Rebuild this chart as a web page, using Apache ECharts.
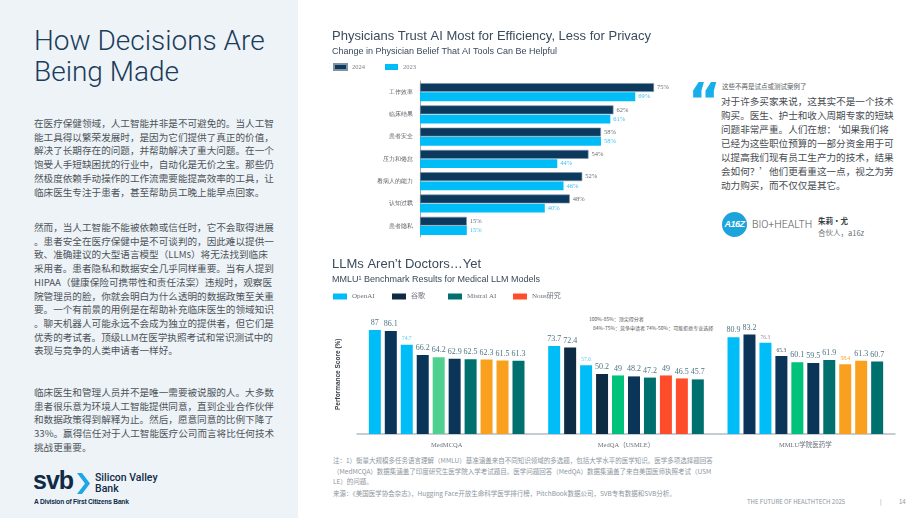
<!DOCTYPE html>
<html>
<head>
<meta charset="utf-8">
<script src="https://cdn.jsdelivr.net/npm/echarts@6/dist/echarts.min.js"></script>
<style>
    html, body { margin: 0; padding: 0; background: #ffffff; }
    body { width: 920px; height: 518px; position: relative; overflow: hidden;
        font-family: "Noto Sans CJK SC", "Liberation Sans", sans-serif; }
    .abs { position: absolute; white-space: nowrap; }
    #side { left: 0; top: 0; width: 298px; height: 518px; background: #eef3f7; }
    #headline { left: 34px; top: 25px; font: 300 28px/31px Roboto, "Liberation Sans", sans-serif; color: #1b3c5a; }
    .para { left: 34px; font-size: 9.6px; line-height: 13.7px; color: #4d535a; }
    .quote { left: 721px; top: 94px; font-size: 9.6px; line-height: 14px; color: #474c52; }
    .note { left: 333px; font-size: 6.5px; line-height: 10.5px; color: #8d969e; font-family: "Noto Sans CJK SC", "Liberation Serif", serif; }
    #main { position: absolute; left: 0; top: 0; width: 920px; height: 518px; }
</style>
</head>
<body>
<div id="side" class="abs"></div>
<div id="headline" class="abs">How Decisions Are<br>Being Made</div>

<div class="abs para" style="top:117px">在医疗保健领域，人工智能并非是不可避免的。当人工智<br>能工具得以繁荣发展时，是因为它们提供了真正的价值，<br>解决了长期存在的问题，并帮助解决了重大问题。在一个<br>饱受人手短缺困扰的行业中，自动化是无价之宝。那些仍<br>然极度依赖手动操作的工作流需要能提高效率的工具，让<br>临床医生专注于患者，甚至帮助员工晚上能早点回家。</div>
<div class="abs para" style="top:221px">然而，当人工智能不能被依赖或信任时，它不会取得进展<br>。患者安全在医疗保健中是不可谈判的，因此难以提供一<br>致、准确建议的大型语言模型（LLMs）将无法找到临床<br>采用者。患者隐私和数据安全几乎同样重要。当有人提到<br>HIPAA（健康保险可携带性和责任法案）违规时，观察医<br>院管理员的脸，你就会明白为什么透明的数据政策至关重<br>要。一个有前景的用例是在帮助补充临床医生的领域知识<br>。聊天机器人可能永远不会成为独立的提供者，但它们是<br>优秀的考试者。顶级LLM在医学执照考试和常识测试中的<br>表现与竞争的人类申请者一样好。</div>
<div class="abs para" style="top:386px">临床医生和管理人员并不是唯一需要被说服的人。大多数<br>患者很乐意为环境人工智能提供同意，直到企业合作伙伴<br>和数据政策得到解释为止。然后，愿意同意的比例下降了<br>33%。赢得信任对于人工智能医疗公司而言将比任何技术<br>挑战更重要。</div>

<!-- svb logo -->
<div class="abs" style="left:33px;top:466px;font:bold 25px/28px 'Liberation Sans',sans-serif;color:#0f2b46;letter-spacing:-1px">svb</div>
<svg class="abs" style="left:77px;top:473px" width="13" height="21"><polygon points="0,0 5,0 13,10.5 5,21 0,21 8,10.5" fill="#1ea7e4"/></svg>
<div class="abs" style="left:95px;top:472px;font:500 10.5px/11px Roboto,'Liberation Sans',sans-serif;color:#0f2b46">Silicon Valley<br>Bank</div>
<div class="abs" style="left:34px;top:498px;font:bold 6.6px/8px 'Liberation Sans',sans-serif;color:#0f2b46;letter-spacing:-0.2px">A Division of First Citizens Bank</div>

<!-- quote block -->
<div class="abs" style="left:688px;top:76px;font:bold 50px/50px 'DejaVu Sans',sans-serif;color:#19aee9">“</div>
<div class="abs" style="left:722px;top:82px;font-size:6.5px;line-height:8px;color:#555b61">这些不再是试点或测试案例了</div>
<div class="abs quote">对于许多买家来说，这其实不是一个技术<br>购买。医生、护士和收入周期专家的短缺<br>问题非常严重。人们在想：‘如果我们将<br>已经为这些职位预算的一部分资金用于可<br>以提高我们现有员工生产力的技术，结果<br>会如何？’他们更看重这一点，视之为劳<br>动力购买，而不仅仅是其它。</div>
<div class="abs" style="left:722px;top:212px;width:25px;height:25px;border-radius:50%;background:#1ba3dc;color:#fff;font:italic bold 9px/25px 'Liberation Sans',sans-serif;text-align:center;letter-spacing:-0.5px">A16Z</div>
<div class="abs" style="left:752px;top:219px;font:300 10.5px/12px Roboto,'Liberation Sans',sans-serif;color:#555">BIO+HEALTH</div>
<div class="abs" style="left:818px;top:216px;font-size:7.5px;line-height:9px;font-weight:bold;color:#3a3f44">朱莉・尤</div>
<div class="abs" style="left:818px;top:228px;font-size:7.5px;line-height:9px;color:#6b7178">合伙人，a16z</div>

<!-- benchmark annotation -->
<div class="abs" style="left:589px;top:316px;font-size:5px;line-height:6px;color:#555">100%-85%：顶尖得分者</div>
<div class="abs" style="left:593px;top:325px;font-size:5px;line-height:6px;color:#555">84%-75%：竞争申请者 74%-50%：可能拒绝专业选择</div>

<!-- notes -->
<div class="abs note" style="top:455px">注：1）衡量大规模多任务语言理解（MMLU）基准涵盖来自不同知识领域的多选题，包括大学水平的医学知识。医学多项选择题回答<br>（MedMCQA）数据集涵盖了印度研究生医学院入学考试题目。医学问题回答（MedQA）数据集涵盖了来自美国医师执照考试（USM<br>LE）的问题。</div>
<div class="abs note" style="top:488px">来源：《美国医学协会杂志》，Hugging Face开放生命科学医学排行榜，PitchBook数据公司，SVB专有数据和SVB分析。</div>
<div class="abs note" style="left:747px;top:497px;font-size:6px">THE FUTURE OF HEALTHTECH 2025</div>
<div class="abs note" style="left:880px;top:497px;font-size:6px">|</div>
<div class="abs note" style="left:899px;top:497px;font-size:6px">14</div>

<div id="main"></div>
<script>
    // 医生对AI工具的信任（%）
    const trustCats = ['工作效率', '临床结果', '患者安全', '压力和倦怠', '看病人的能力', '认知过载', '患者隐私'];
    const trust2024 = [75, 62, 58, 54, 52, 48, 15];
    const trust2023 = [69, 61, 58, 44, 46, 40, 15];

    // MMLU 医学基准结果，每组10个模型（按组内顺序）
    const benchCats = ['MedMCQA', 'MedQA（USMLE）', 'MMLU学院医药学'];
    const benchSlots = [
        [87, 73.7, 80.9],
        [86.1, 72.4, 83.2],
        [74.7, 57.6, 76.3],
        [66.2, 50.2, 65.3],
        [64.2, 49, 60.1],
        [62.9, 48.2, 59.5],
        [62.5, 47.2, 61.9],
        [62.3, 49, 58.4],
        [61.5, 46.5, 61.3],
        [61.3, 45.7, 60.7]
    ];
    const slotNames = ['OpenAI', '谷歌', 'OpenAI', '谷歌', '其他', '谷歌', 'Mistral AI', 'Nous研究', 'Nous研究', 'Mistral AI'];

    // 样式
    const C = {
        blue: '#00bdf8', navy: '#0b3558', dark: '#0e2b44', green: '#00c27a', lgreen: '#50d08f',
        teal: '#00706e', orange: '#f9a11f', red: '#ff4d2b'
    };
    const slotColors = [
        [C.blue, C.blue, C.blue],
        [C.navy, C.dark, C.navy],
        [C.blue, C.blue, C.blue],
        [C.navy, C.dark, C.navy],
        [C.lgreen, C.green, C.green],
        [C.navy, C.navy, C.navy],
        [C.teal, C.teal, C.teal],
        [C.orange, C.red, C.orange],
        [C.orange, C.red, C.orange],
        [C.teal, C.teal, C.teal]
    ];
    const legendColor = {'OpenAI': C.blue, '谷歌': C.dark, '其他': C.green, 'Mistral AI': C.teal, 'Nous研究': C.red};
    // 个别数值标签的特殊样式
    const smallLabels = {
        '2-0': '#5ec8ee', '2-1': '#5ec8ee', '2-2': '#8c9aa4', '3-2': '#4b5a66', '7-2': '#f9a11f'
    };

    const serif = '"Liberation Serif", "Noto Sans CJK SC", serif';
    const sans = '"Liberation Sans", "Noto Sans CJK SC", sans-serif';

    const chart = echarts.init(document.getElementById('main'), null, {renderer: 'canvas'});

    const benchSeries = benchSlots.map(function (vals, i) {
        return {
            name: slotNames[i],
            type: 'bar',
            xAxisIndex: 1,
            yAxisIndex: 1,
            barWidth: 12,
            barGap: '33%',
            itemStyle: {color: legendColor[slotNames[i]]},
            label: {
                show: true, position: 'top', distance: 3,
                fontFamily: serif, fontSize: 8, color: '#4f7483'
            },
            data: vals.map(function (v, g) {
                const item = {value: v, itemStyle: {color: slotColors[i][g]}};
                const key = i + '-' + g;
                if (smallLabels[key]) {
                    item.label = {fontSize: 5.5, color: smallLabels[key]};
                }
                return item;
            })
        };
    });

    const bottomLegendPos = [['OpenAI', 333], ['谷歌', 392], ['Mistral AI', 448], ['Nous研究', 513]];

    const option = {
        animation: false,
        title: [
            {
                text: 'Physicians Trust AI Most for Efficiency, Less for Privacy',
                subtext: 'Change in Physician Belief That AI Tools Can Be Helpful',
                left: 332, top: 30, padding: 0, itemGap: 4,
                textStyle: {fontFamily: sans, fontSize: 13, fontWeight: 'normal', color: '#3a4b5c'},
                subtextStyle: {fontFamily: sans, fontSize: 9, color: '#3a4b5c'}
            },
            {
                text: 'LLMs Aren’t Doctors…Yet',
                subtext: 'MMLU¹ Benchmark Results for Medical LLM Models',
                left: 332, top: 258, padding: 0, itemGap: 4,
                textStyle: {fontFamily: sans, fontSize: 13, fontWeight: 'normal', color: '#3a4b5c'},
                subtextStyle: {fontFamily: sans, fontSize: 9, color: '#3a4b5c'}
            }
        ],
        legend: [{
            data: ['2024', '2023'],
            left: 333, top: 63, padding: 0,
            icon: 'rect', itemWidth: 13, itemHeight: 6, itemGap: 20,
            selectedMode: false,
            textStyle: {fontFamily: serif, fontSize: 6.5, color: '#7a8088'}
        }].concat(bottomLegendPos.map(function (p) {
            return {
                data: [{name: p[0], itemStyle: {color: legendColor[p[0]]}}],
                left: p[1], top: 293, padding: 0,
                icon: 'rect', itemWidth: 14, itemHeight: 6,
                selectedMode: false,
                textStyle: {fontFamily: serif, fontSize: 7, color: '#6a7078'}
            };
        })),
        grid: [
            {left: 420, top: 81, width: 312, height: 156},
            {left: 357, top: 314.5, width: 538, height: 119.5}
        ],
        xAxis: [
            {gridIndex: 0, type: 'value', min: 0, max: 100, show: false},
            {
                gridIndex: 1, type: 'category', data: benchCats,
                axisLine: {lineStyle: {color: '#b3bcc4', width: 1.5}},
                axisTick: {show: false},
                axisLabel: {fontFamily: serif, fontSize: 6.5, color: '#6a7078', margin: 8}
            }
        ],
        yAxis: [
            {
                gridIndex: 0, type: 'category', data: trustCats, inverse: true,
                axisLine: {lineStyle: {color: '#9eaab4', width: 1}},
                axisTick: {show: false},
                axisLabel: {fontSize: 6, color: '#555b61', margin: 7}
            },
            {
                gridIndex: 1, type: 'value', min: 0, max: 100,
                axisLine: {show: false}, axisTick: {show: false},
                axisLabel: {show: false}, splitLine: {show: false},
                name: 'Performance Score (%)', nameLocation: 'middle', nameGap: 16,
                nameTextStyle: {fontFamily: sans, fontSize: 6.5, fontWeight: 'bold', color: '#3a3f44'}
            }
        ],
        series: [
            {
                name: '2024', type: 'bar', xAxisIndex: 0, yAxisIndex: 0,
                barCategoryGap: '19%', barGap: '5%',
                itemStyle: {color: '#0b3a5e', borderColor: '#7d93a6', borderWidth: 0.6},
                label: {show: true, position: 'right', distance: 3, formatter: '{c}%',
                    fontFamily: serif, fontSize: 6.5, color: '#666c72'},
                data: trust2024
            },
            {
                name: '2023', type: 'bar', xAxisIndex: 0, yAxisIndex: 0,
                barCategoryGap: '19%', barGap: '5%',
                itemStyle: {color: '#00bdf8'},
                label: {show: true, position: 'right', distance: 3, formatter: '{c}%',
                    fontFamily: serif, fontSize: 6.5, color: '#3ec0ef'},
                data: trust2023
            }
        ].concat(benchSeries)
    };
    chart.setOption(option);
</script>
</body>
</html>
